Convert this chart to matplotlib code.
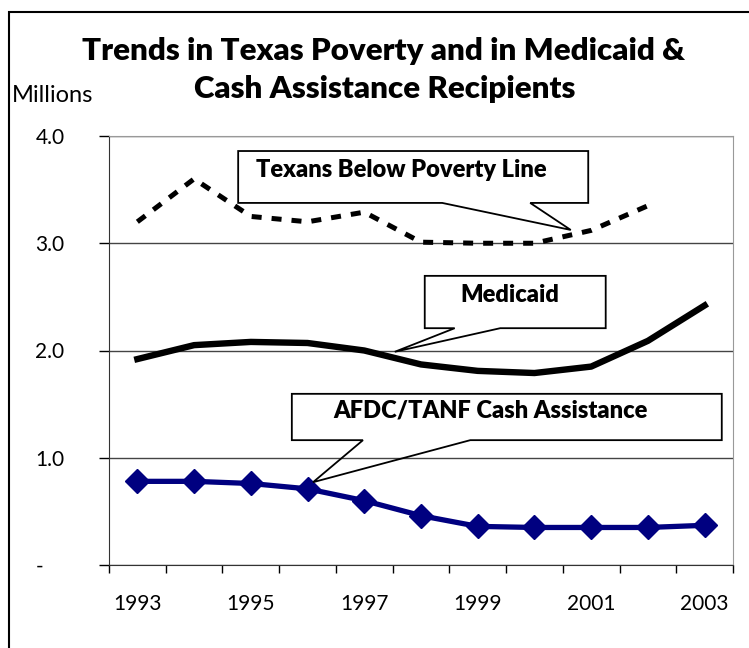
import numpy as np
import matplotlib
matplotlib.use("Agg")
import matplotlib.pyplot as plt
from matplotlib.patches import Polygon, Rectangle

plt.rcParams['font.family'] = ['Lato', 'DejaVu Sans']

# millions of people, 1993-2003
years = list(range(1993, 2004))
poverty = [3.20, 3.60, 3.25, 3.20, 3.29, 3.01, 3.00, 3.00, 3.12, 3.35]
medicaid = [1.92, 2.05, 2.08, 2.07, 2.00, 1.87, 1.81, 1.79, 1.85, 2.09, 2.42]
afdc = [0.78, 0.78, 0.76, 0.71, 0.60, 0.46, 0.36, 0.35, 0.35, 0.35, 0.37]
yticks = [0, 1, 2, 3, 4]
ytick_labels = ["-", "1.0", "2.0", "3.0", "4.0"]
title_lines = ["Trends in Texas Poverty and in Medicaid &",
               "Cash Assistance Recipients"]

fig = plt.figure(figsize=(7.49, 6.48), dpi=100)
W, H = 749, 648
ax = fig.add_axes([109 / W, 1 - 565 / H, 624 / W, 429 / H])

x = np.arange(len(years))
ax.plot(x[:len(poverty)], poverty, color="black", lw=3.6,
        linestyle=(0, (2, 2)), dash_capstyle="butt", zorder=3)
ax.plot(x, medicaid, color="black", lw=4.6, solid_joinstyle="round", zorder=3)
ax.plot(x, afdc, color="#000080", lw=3.8, marker="D", markersize=12,
        zorder=3)

ax.set_xlim(-0.5, len(years) - 0.5)
ax.set_ylim(0, 4)

# ticks on category boundaries, labels on every other year
ax.set_xticks(np.arange(len(years) + 1) - 0.5)
ax.set_xticklabels([])
ax.set_xticks(x[::2], minor=True)
ax.set_xticklabels([str(y) for y in years[::2]], minor=True)
ax.tick_params(axis="x", which="major", direction="out", length=6, width=1)
ax.tick_params(axis="x", which="minor", length=0, pad=21, labelsize=15)

ax.set_yticks(yticks)
ax.set_yticklabels(ytick_labels)
ax.tick_params(axis="y", direction="out", length=7, width=1, pad=46,
               labelsize=15)
for lab in ax.get_yticklabels():
    lab.set_horizontalalignment("left")

ax.grid(axis="y", color="#444444", lw=1)
ax.set_axisbelow(True)
ax.spines["left"].set_color("#333333")
ax.spines["bottom"].set_color("#333333")
ax.spines["right"].set_color("#999999")
ax.spines["top"].set_color("#999999")


def callout(x0, x1, y0, y1, b0, b1, tip, text, tx, ty):
    pts = [(x0, y1), (x1, y1), (x1, y0), (b1, y0), tip, (b0, y0), (x0, y0)]
    ax.add_patch(Polygon(pts, closed=True, transform=ax.transAxes,
                         facecolor="none", edgecolor="black", lw=1.3,
                         zorder=4, clip_on=False))
    ax.text(tx, ty, text, transform=ax.transAxes, ha="center",
            va="center", fontsize=17, fontweight="heavy", zorder=5)


callout(0.207, 0.768, 0.844, 0.965, 0.534, 0.675, (0.740, 0.781),
        "Texans Below Poverty Line", 0.468, 0.921)
callout(0.506, 0.796, 0.552, 0.674, 0.554, 0.627, (0.458, 0.497),
        "Medicaid", 0.643, 0.629)
callout(0.293, 0.982, 0.291, 0.399, 0.407, 0.579, (0.327, 0.193),
        "AFDC/TANF Cash Assistance", 0.611, 0.359)

fig.text(383 / W, 1 - 51 / H, title_lines[0], ha="center", va="center",
         fontsize=22.5, fontweight="heavy")
fig.text(385 / W, 1 - 89 / H, title_lines[1], ha="center", va="center",
         fontsize=22.5, fontweight="heavy")
fig.text(12 / W, 1 - 96 / H, "Millions", ha="left", va="center", fontsize=17)

# outer frame running off the right and bottom edges
fig.patches.append(Rectangle((9 / W, -0.05), 1.1, 1 - 12 / H + 0.05,
                             transform=fig.transFigure, fill=False,
                             edgecolor="black", lw=1.5))

fig.savefig("out.png", dpi=100)
